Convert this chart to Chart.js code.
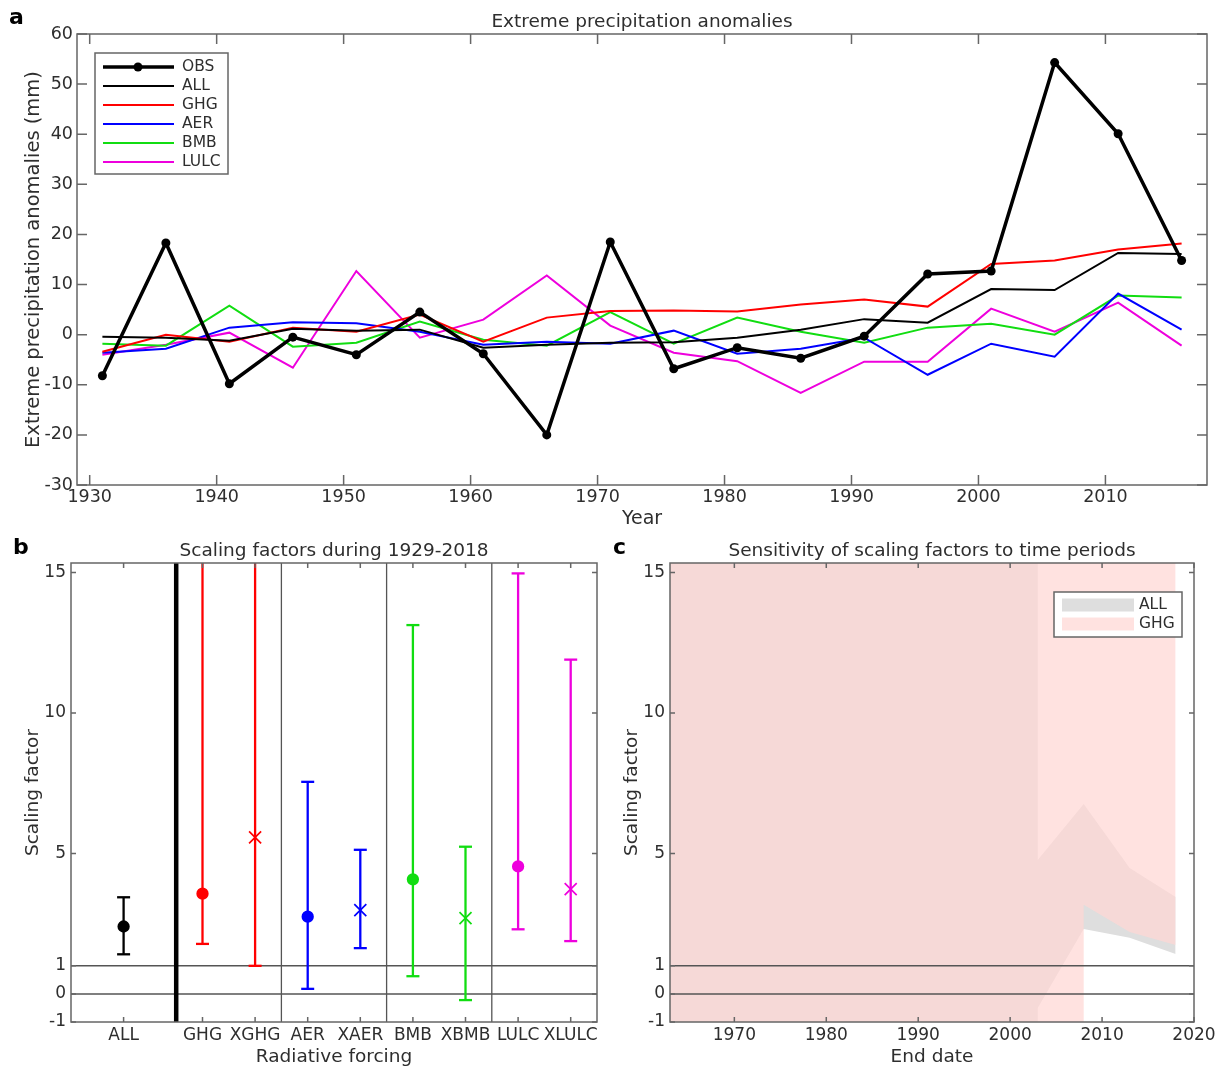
<!DOCTYPE html>
<html>
<head>
<meta charset="utf-8">
<script src="https://cdn.jsdelivr.net/npm/chart.js@4.4.1/dist/chart.umd.min.js"></script>
<style>
  body { margin: 0; background: #fff; }
  #page { position: relative; width: 1220px; height: 1068px; overflow: hidden; }
  canvas { position: absolute; }
  .lbl { position: absolute; font: bold 22px "DejaVu Sans", sans-serif; line-height: 1; color: #000; }
</style>
</head>
<body>
<div id="page">
  <canvas id="chartA" width="1220" height="530" style="left:0;top:0"></canvas>
  <canvas id="chartB" width="620" height="538" style="left:0;top:530px"></canvas>
  <canvas id="chartC" width="600" height="538" style="left:620px;top:530px"></canvas>
  <div class="lbl" style="left:9px;top:6px">a</div>
  <div class="lbl" style="left:13px;top:536px">b</div>
  <div class="lbl" style="left:613px;top:536px">c</div>
</div>
<script>
// ---- panel a: extreme precipitation anomalies (mm)
const years = [1931, 1936, 1941, 1946, 1951, 1956, 1961, 1966, 1971, 1976, 1981, 1986, 1991, 1996, 2001, 2006, 2011, 2016];
const obs  = [-8.2, 18.3, -9.8, -0.5, -4.0, 4.5, -3.8, -20.0, 18.5, -6.8, -2.6, -4.7, -0.3, 12.1, 12.7, 54.3, 40.1, 14.8];
const all  = [-0.4, -0.6, -1.2, 1.2, 0.8, 1.0, -2.6, -2.0, -1.6, -1.5, -0.6, 1.0, 3.1, 2.4, 9.1, 8.9, 16.3, 16.1];
const ghg  = [-3.4, 0.0, -1.4, 1.4, 0.6, 4.0, -1.4, 3.4, 4.7, 4.8, 4.6, 6.0, 7.0, 5.6, 14.1, 14.8, 17.0, 18.2];
const aer  = [-3.6, -2.8, 1.4, 2.5, 2.3, 0.6, -2.0, -1.4, -1.8, 0.8, -3.8, -2.8, -0.6, -8.0, -1.8, -4.4, 8.2, 1.0];
const bmb  = [-1.8, -2.2, 5.8, -2.4, -1.6, 2.6, -1.0, -2.2, 4.5, -1.8, 3.4, 0.6, -1.6, 1.4, 2.2, 0.0, 7.8, 7.4];
const lulc = [-4.0, -2.0, 0.4, -6.6, 12.7, -0.6, 3.0, 11.8, 1.8, -3.6, -5.3, -11.6, -5.4, -5.4, 5.2, 0.6, 6.4, -2.2];
const yearTicks = [1930, 1940, 1950, 1960, 1970, 1980, 1990, 2000, 2010];
const anomTicks = [-30, -20, -10, 0, 10, 20, 30, 40, 50, 60];

// ---- panel b: scaling factors 1929-2018
const forcings = ["ALL", "GHG", "XGHG", "AER", "XAER", "BMB", "XBMB", "LULC", "XLULC"];
const forcingPos = [-0.5, 1, 2, 3, 4, 5, 6, 7, 8];
const sfBest  = [2.4, 3.57, 5.57, 2.75, 2.98, 4.08, 2.7, 4.54, 3.73];
const sfLow   = [1.41, 1.78, 1.0, 0.18, 1.63, 0.63, -0.22, 2.3, 1.88];
const sfHigh  = [3.44, 16, 16, 7.55, 5.13, 13.13, 5.24, 14.97, 11.9];
const sfTicks = [-1, 0, 1, 5, 10, 15];
const groupLines = [0.5, 2.5, 4.5, 6.5];

// ---- panel c: sensitivity to end date (bands run off the axes where unbounded)
const endTicks = [1970, 1980, 1990, 2000, 2010, 2020];
const ghgDates = [1963, 2008, 2008, 2013, 2018];
const ghgLow   = [-3, -3, 3.17, 2.2, 1.74];
const ghgHigh  = [17, 17, 17, 17, 17];
const allDates = [1963, 2003, 2003, 2008, 2013, 2018];
const allLow   = [-3, -3, -0.5, 2.31, 2.0, 1.42];
const allHigh  = [17, 17, 4.77, 6.76, 4.48, 3.45];

const RED = "#f00", BLUE = "#00f", GREEN = "#1d1", MAG = "#e0d", TXT = "#2e2e2e", AX = "#666";
const sfColors = ["#000", RED, RED, BLUE, BLUE, GREEN, GREEN, MAG, MAG];
const sfMarks = ["circle", "circle", "crossRot", "circle", "crossRot", "circle", "crossRot", "circle", "crossRot"];
const ALL_FILL = "rgb(222,222,222)";
const GHG_FILL = "rgba(255,215,213,0.73)";

Chart.defaults.font.family = '"DejaVu Sans", sans-serif';
Chart.defaults.color = TXT;
Chart.defaults.animation = false;

function axis(o) {
  return {
    type: "linear",
    min: o.min,
    max: o.max,
    afterBuildTicks: (s) => { s.ticks = o.ticks.map((v) => ({ value: v })); },
    afterFit: (s) => {
      if (o.width) s.width = o.width;
      if (o.height) s.height = o.height;
    },
    grid: { display: false, drawTicks: false },
    border: { display: false },
    ticks: {
      padding: o.pad,
      autoSkip: false,
      maxRotation: 0,
      font: { size: o.tickSize },
      callback: o.label || ((v) => String(v)),
    },
    title: { display: true, text: o.title, font: { size: o.titleSize }, padding: o.titlePad },
  };
}

// box, inward ticks, title
const boxTicks = {
  id: "boxTicks",
  afterDatasetsDraw(chart, args, opts) {
    const { ctx, chartArea: a, scales } = chart;
    const len = opts.len;
    ctx.save();
    ctx.strokeStyle = AX;
    ctx.lineWidth = 1.5;
    ctx.beginPath();
    scales.x.ticks.forEach((t) => {
      const px = scales.x.getPixelForValue(t.value);
      ctx.moveTo(px, a.bottom); ctx.lineTo(px, a.bottom - len);
      ctx.moveTo(px, a.top); ctx.lineTo(px, a.top + len);
    });
    scales.y.ticks.forEach((t) => {
      const py = scales.y.getPixelForValue(t.value);
      ctx.moveTo(a.left, py); ctx.lineTo(a.left + len, py);
      ctx.moveTo(a.right, py); ctx.lineTo(a.right - len, py);
    });
    ctx.stroke();
    ctx.strokeRect(a.left, a.top, a.right - a.left, a.bottom - a.top);
    ctx.fillStyle = TXT;
    ctx.font = '18.5px "DejaVu Sans"';
    ctx.textAlign = "center";
    ctx.textBaseline = "middle";
    ctx.fillText(opts.title, (a.left + a.right) / 2, a.top - opts.titleGap);
    ctx.restore();
  },
};

// reference lines at fixed values
function drawGuides(chart, opts) {
  const { ctx, chartArea: a, scales } = chart;
  ctx.save();
  (opts.h || []).forEach((v) => {
    const py = scales.y.getPixelForValue(v);
    ctx.strokeStyle = "#555"; ctx.lineWidth = 1.5;
    ctx.beginPath(); ctx.moveTo(a.left, py); ctx.lineTo(a.right, py); ctx.stroke();
  });
  (opts.v || []).forEach((v, i) => {
    const px = scales.x.getPixelForValue(v);
    ctx.strokeStyle = i === 0 ? "#000" : "#555";
    ctx.lineWidth = i === 0 ? 4.5 : 1.3;
    ctx.beginPath(); ctx.moveTo(px, a.top); ctx.lineTo(px, a.bottom); ctx.stroke();
  });
  ctx.restore();
}
const guides = {
  id: "guides",
  beforeDatasetsDraw(chart, args, opts) { if (!opts.onTop) drawGuides(chart, opts); },
  afterDatasetsDraw(chart, args, opts) { if (opts.onTop) drawGuides(chart, opts); },
};

// panel a legend inside the axes
const legendA = {
  id: "legendA",
  afterDraw(chart) {
    const { ctx, chartArea: a } = chart;
    const x0 = a.left + 18, y0 = a.top + 19;
    ctx.save();
    ctx.fillStyle = "#fff";
    ctx.fillRect(x0, y0, 133, 121);
    ctx.strokeStyle = AX; ctx.lineWidth = 1.5;
    ctx.strokeRect(x0, y0, 133, 121);
    ctx.font = '15.5px "DejaVu Sans"';
    ctx.textBaseline = "middle";
    chart.data.datasets.forEach((ds, i) => {
      const y = y0 + 14 + i * 19;
      ctx.strokeStyle = ds.borderColor; ctx.lineWidth = ds.borderWidth;
      ctx.beginPath(); ctx.moveTo(x0 + 8, y); ctx.lineTo(x0 + 79, y); ctx.stroke();
      if (ds.pointRadius > 0) {
        ctx.fillStyle = ds.borderColor;
        ctx.beginPath(); ctx.arc(x0 + 43, y, ds.pointRadius, 0, Math.PI * 2); ctx.fill();
      }
      ctx.fillStyle = TXT;
      ctx.fillText(ds.label, x0 + 87, y);
    });
    ctx.restore();
  },
};

// panel c legend (filled patches)
const legendC = {
  id: "legendC",
  afterDraw(chart) {
    const { ctx, chartArea: a } = chart;
    const x0 = a.right - 140, y0 = a.top + 29;
    ctx.save();
    ctx.fillStyle = "#fff";
    ctx.fillRect(x0, y0, 128, 45);
    ctx.strokeStyle = AX; ctx.lineWidth = 1.5;
    ctx.strokeRect(x0, y0, 128, 45);
    ctx.font = '15.5px "DejaVu Sans"';
    ctx.textBaseline = "middle";
    [["ALL", ALL_FILL], ["GHG", GHG_FILL]].forEach(([name, col], i) => {
      const y = y0 + 13 + i * 19;
      ctx.fillStyle = col;
      ctx.fillRect(x0 + 8, y - 6.5, 72, 13);
      ctx.fillStyle = TXT;
      ctx.fillText(name, x0 + 85, y);
    });
    ctx.restore();
  },
};

function series(label, values, color, width, radius) {
  return {
    label: label,
    data: years.map((yr, i) => ({ x: yr, y: values[i] })),
    borderColor: color,
    backgroundColor: color,
    borderWidth: width,
    pointRadius: radius,
    pointHoverRadius: radius,
    pointBackgroundColor: color,
    pointBorderWidth: 0,
    tension: 0,
  };
}

new Chart(document.getElementById("chartA"), {
  type: "line",
  data: {
    datasets: [
      series("OBS", obs, "#000", 3.5, 4.5),
      series("ALL", all, "#000", 2, 0),
      series("GHG", ghg, RED, 2, 0),
      series("AER", aer, BLUE, 2, 0),
      series("BMB", bmb, GREEN, 2, 0),
      series("LULC", lulc, MAG, 2, 0),
    ],
  },
  options: {
    responsive: false,
    devicePixelRatio: 1,
    layout: { padding: { top: 34, right: 13, left: 0, bottom: 0 } },
    plugins: {
      legend: { display: false },
      tooltip: { enabled: false },
      boxTicks: { len: 10, title: "Extreme precipitation anomalies", titleGap: 12 },
    },
    scales: {
      x: axis({ min: 1929, max: 2018, ticks: yearTicks, height: 45, pad: 2, tickSize: 17.5, titleSize: 19,
        title: "Year", titlePad: { top: 0, bottom: 0 } }),
      y: axis({ min: -30, max: 60, ticks: anomTicks, width: 77, pad: 4, tickSize: 17.5, titleSize: 19.5,
        title: "Extreme precipitation anomalies (mm)", titlePad: { top: 22, bottom: 0 } }),
    },
  },
  plugins: [boxTicks, legendA],
});

const errorBars = forcingPos.map((p, i) => ({
  type: "line",
  data: [{ x: p, y: sfLow[i] }, { x: p, y: sfHigh[i] }],
  borderColor: sfColors[i],
  borderWidth: 2.3,
  pointStyle: "line",
  pointRadius: 6.5,
  pointHoverRadius: 6.5,
  pointBorderColor: sfColors[i],
  pointBorderWidth: 2.3,
}));

new Chart(document.getElementById("chartB"), {
  type: "scatter",
  data: {
    datasets: [
      {
        data: forcingPos.map((p, i) => ({ x: p, y: sfBest[i] })),
        pointStyle: sfMarks,
        pointRadius: sfMarks.map((m) => (m === "circle" ? 5.3 : 8.5)),
        pointBackgroundColor: sfColors,
        pointBorderColor: sfColors,
        pointBorderWidth: 1.7,
      },
      ...errorBars,
    ],
  },
  options: {
    responsive: false,
    devicePixelRatio: 1,
    layout: { padding: { top: 33, right: 23, left: 0, bottom: 0 } },
    plugins: {
      legend: { display: false },
      tooltip: { enabled: false },
      boxTicks: { len: 5, title: "Scaling factors during 1929-2018", titleGap: 12 },
      guides: { h: [0, 1], v: groupLines, onTop: false },
    },
    scales: {
      x: axis({
        min: -1.5, max: 8.5, ticks: forcingPos, height: 46, pad: 3, tickSize: 17, titleSize: 18.5,
        title: "Radiative forcing", titlePad: { top: 0, bottom: 0 },
        label: (v) => forcings[forcingPos.indexOf(v)],
      }),
      y: axis({ min: -1, max: 15.34, ticks: sfTicks, width: 71, pad: 5, tickSize: 17, titleSize: 18.5,
        title: "Scaling factor", titlePad: { top: 22, bottom: 0 } }),
    },
  },
  plugins: [guides, boxTicks],
});

function band(dates, values, fillTo, color) {
  return {
    data: dates.map((d, i) => ({ x: d, y: values[i] })),
    borderWidth: 0,
    borderColor: "rgba(0,0,0,0)",
    pointRadius: 0,
    backgroundColor: color,
    fill: fillTo,
    tension: 0,
  };
}

new Chart(document.getElementById("chartC"), {
  type: "line",
  data: {
    datasets: [
      band(ghgDates, ghgLow, false, GHG_FILL),
      band(ghgDates, ghgHigh, 0, GHG_FILL),
      band(allDates, allLow, false, ALL_FILL),
      band(allDates, allHigh, 2, ALL_FILL),
    ],
  },
  options: {
    responsive: false,
    devicePixelRatio: 1,
    layout: { padding: { top: 33, right: 26, left: 0, bottom: 0 } },
    plugins: {
      legend: { display: false },
      tooltip: { enabled: false },
      filler: { propagate: false },
      boxTicks: { len: 5, title: "Sensitivity of scaling factors to time periods", titleGap: 12 },
      guides: { h: [0, 1], onTop: true },
    },
    scales: {
      x: axis({ min: 1963, max: 2020, ticks: endTicks, height: 46, pad: 3, tickSize: 17, titleSize: 18.5,
        title: "End date", titlePad: { top: 0, bottom: 0 } }),
      y: axis({ min: -1, max: 15.34, ticks: sfTicks, width: 50, pad: 5, tickSize: 17, titleSize: 18.5,
        title: "Scaling factor", titlePad: { top: 1, bottom: 0 } }),
    },
  },
  plugins: [guides, boxTicks, legendC],
});
</script>
</body>
</html>
